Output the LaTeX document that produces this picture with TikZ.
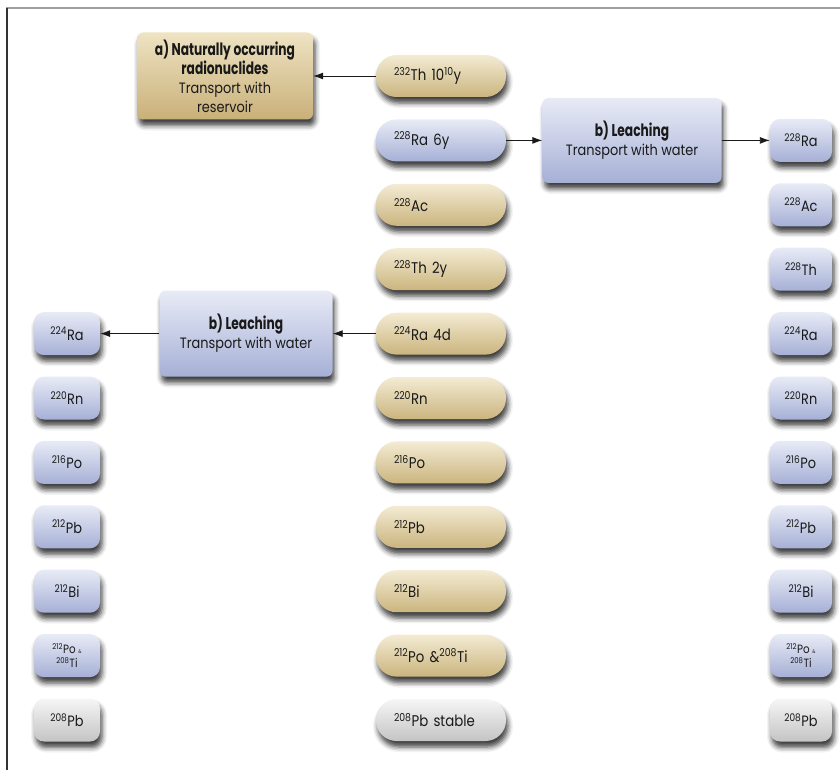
\documentclass[tikz,border=0pt]{standalone}
\usepackage{fontspec}
\setmainfont{Poppins}[FakeStretch=0.86]
\newfontfamily\headfont[FakeStretch=0.72]{Poppins}
\usetikzlibrary{arrows.meta,shadows.blur}
\definecolor{tanT}{HTML}{F3EBD3}
\definecolor{tanB}{HTML}{CBB57F}
\definecolor{tanDT}{HTML}{EEE3C3}
\definecolor{tanDB}{HTML}{C9B079}
\definecolor{bluT}{HTML}{E8EBF6}
\definecolor{bluB}{HTML}{A6B0D6}
\definecolor{gryT}{HTML}{F6F6F6}
\definecolor{gryB}{HTML}{C4C4C4}
\newcommand{\iso}[2]{\textsuperscript{#1}#2}
\newcommand{\hd}[1]{{\headfont\bfseries\fontsize{17}{19}\selectfont #1}}
\begin{document}
\begin{tikzpicture}[x=1pt,y=-1pt,
  base/.style={text=black!90, draw=none, inner sep=0pt,
    blur shadow={shadow xshift=2pt, shadow yshift=-6pt, shadow blur radius=5pt, shadow opacity=75}},
  tanfill/.style={top color=tanT, bottom color=tanB},
  tandark/.style={top color=tanDT, bottom color=tanDB},
  blufill/.style={top color=bluT, bottom color=bluB},
  gryfill/.style={top color=gryT, bottom color=gryB},
  pill/.style={base, font=\fontsize{15.5}{17}\selectfont, rounded corners=20.5pt,
    minimum width=130pt, minimum height=42pt, text width=94pt, align=left},
  sbox/.style={base, font=\fontsize{15}{16}\selectfont, rounded corners=10pt,
    minimum width=64pt, minimum height=43pt, align=center},
  twoline/.style={font=\fontsize{12}{14}\selectfont},
  bigbox/.style={base, rounded corners=6pt, align=center,
    font=\fontsize{15}{19}\selectfont},
  arr/.style={-{Latex[length=10pt,width=7pt]}, line width=0.9pt, black!90}
]
\useasboundingbox (0,0) rectangle (840,770);
\draw[gray!75, line width=2pt] (6,8) -- (840,8);
\draw[black!80, line width=1.3pt] (7,8) -- (7,770);

% middle column
\node[pill,tanfill] (m1)  at (441,76)    {\iso{232}{Th} 10\textsuperscript{10}y};
\node[pill,blufill] (m2)  at (441,140.4) {\iso{228}{Ra} 6y};
\node[pill,tanfill] (m3)  at (441,204.8) {\iso{228}{Ac}};
\node[pill,tanfill] (m4)  at (441,269.2) {\iso{228}{Th} 2y};
\node[pill,tanfill] (m5)  at (441,333.6) {\iso{224}{Ra} 4d};
\node[pill,tanfill] (m6)  at (441,398)   {\iso{220}{Rn}};
\node[pill,tanfill] (m7)  at (441,462.4) {\iso{216}{Po}};
\node[pill,tanfill] (m8)  at (441,526.8) {\iso{212}{Pb}};
\node[pill,tanfill] (m9)  at (441,591.2) {\iso{212}{Bi}};
\node[pill,tanfill] (m10) at (441,655.6) {\iso{212}{Po} \&\iso{208}{Ti}};
\node[pill,gryfill] (m11) at (441,720)   {\iso{208}{Pb} stable};

% right column
\node[sbox,blufill,minimum width=62pt] (r2)  at (801,140.4) {\iso{228}{Ra}};
\node[sbox,blufill,minimum width=62pt] (r3)  at (801,204.8) {\iso{228}{Ac}};
\node[sbox,blufill,minimum width=62pt] (r4)  at (801,269.2) {\iso{228}{Th}};
\node[sbox,blufill,minimum width=62pt] (r5)  at (801,333.6) {\iso{224}{Ra}};
\node[sbox,blufill,minimum width=62pt] (r6)  at (801,398)   {\iso{220}{Rn}};
\node[sbox,blufill,minimum width=62pt] (r7)  at (801,462.4) {\iso{216}{Po}};
\node[sbox,blufill,minimum width=62pt] (r8)  at (801,526.8) {\iso{212}{Pb}};
\node[sbox,blufill,minimum width=62pt] (r9)  at (801,591.2) {\iso{212}{Bi}};
\node[sbox,blufill,minimum width=62pt,twoline] (r10) at (801,655.6) {\iso{212}{Po} {\tiny\&}\\\iso{208}{Ti}};
\node[sbox,gryfill,minimum width=62pt] (r11) at (801,720)   {\iso{208}{Pb}};

% left column
\node[sbox,blufill,minimum width=66pt] (l5)  at (67,333.6) {\iso{224}{Ra}};
\node[sbox,blufill,minimum width=66pt] (l6)  at (67,398)   {\iso{220}{Rn}};
\node[sbox,blufill,minimum width=66pt] (l7)  at (67,462.4) {\iso{216}{Po}};
\node[sbox,blufill,minimum width=66pt] (l8)  at (67,526.8) {\iso{212}{Pb}};
\node[sbox,blufill,minimum width=66pt] (l9)  at (67,591.2) {\iso{212}{Bi}};
\node[sbox,blufill,minimum width=66pt,twoline] (l10) at (67,655.6) {\iso{212}{Po} {\tiny\&}\\\iso{208}{Ti}};
\node[sbox,gryfill,minimum width=66pt] (l11) at (67,720)   {\iso{208}{Pb}};

% process boxes
\node[bigbox,tandark,minimum width=176pt,minimum height=87pt] (a) at (225,76)
  {\hd{a) Naturally occurring}\\\hd{radionuclides}\\Transport with\\reservoir};
\node[bigbox,blufill,minimum width=179pt,minimum height=85pt] (bR) at (632,140.4)
  {\hd{b) Leaching}\\Transport with water};
\node[bigbox,blufill,minimum width=173pt,minimum height=86pt] (bL) at (246,333.6)
  {\hd{b) Leaching}\\Transport with water};

% connectors
\draw[arr] (m1.west) -- (a.east);
\draw[arr] (m2.east) -- (bR.west);
\draw[arr] (bR.east) -- (r2.west);
\draw[arr] (m5.west) -- (bL.east);
\draw[arr] (bL.west) -- (l5.east);
\end{tikzpicture}
\end{document}
